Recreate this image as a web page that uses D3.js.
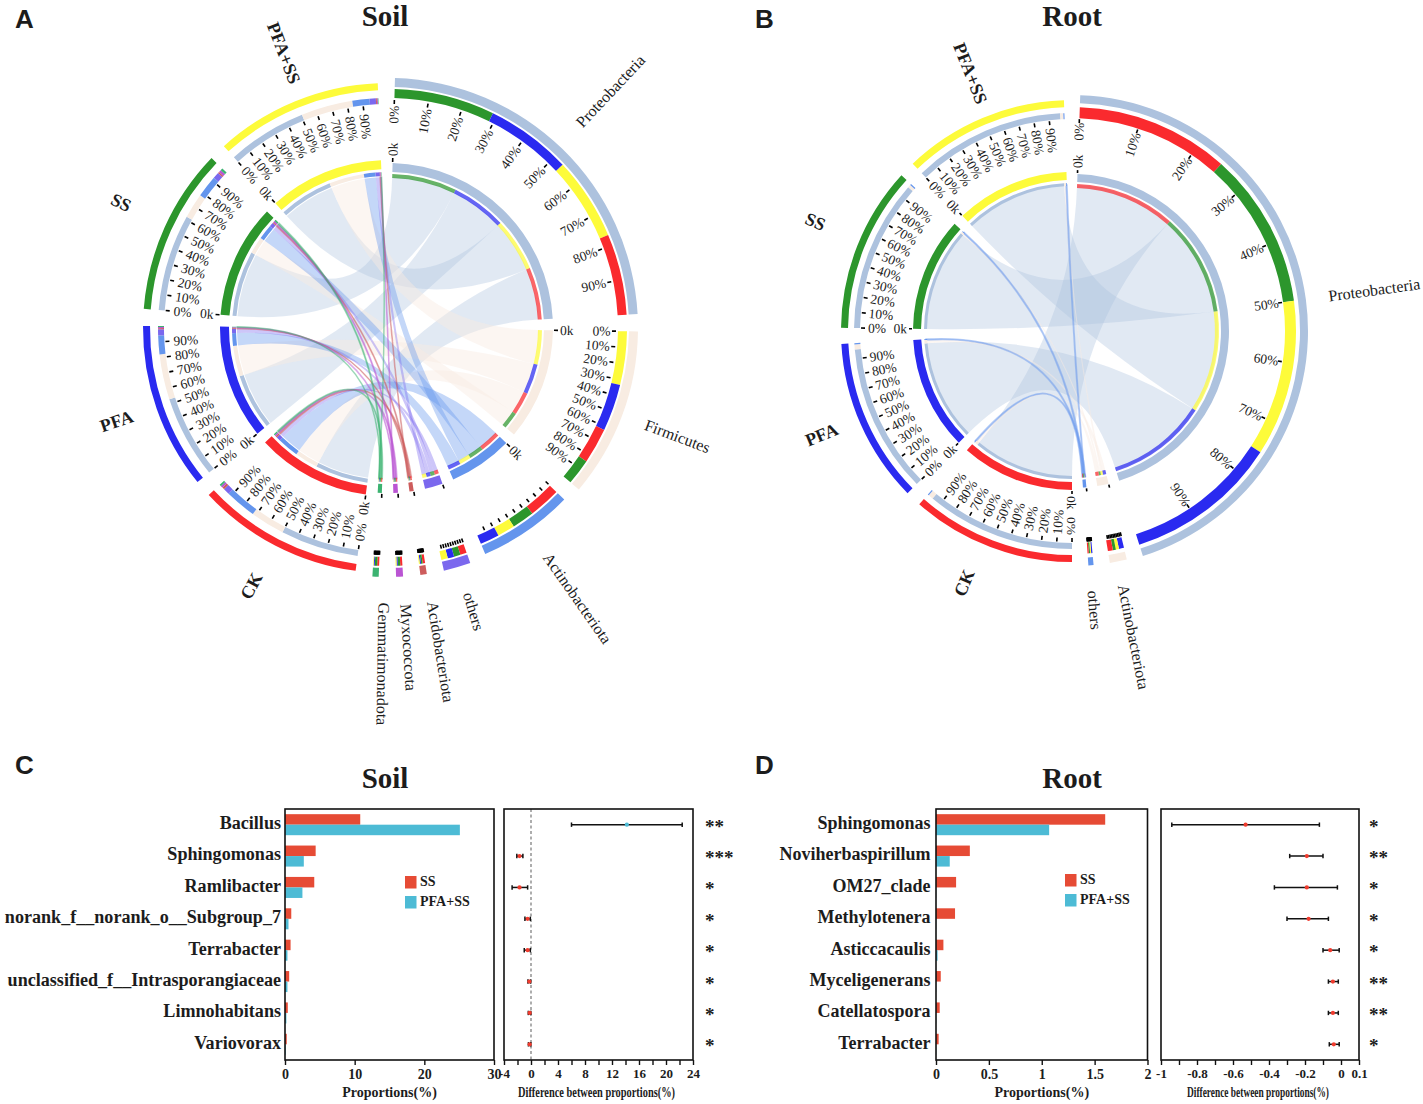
<!DOCTYPE html>
<html><head><meta charset="utf-8">
<script src="https://cdn.jsdelivr.net/npm/d3@7"></script>
<style>
html,body{margin:0;padding:0;background:#fff}
svg{display:block}
text{font-family:"Liberation Serif",serif;fill:#1c1c1c}
</style></head><body>
<svg id="c" width="1423" height="1104"></svg>
<script>
// ---------- DATA ----------
const sampleNames = ['CK','PFA','SS','PFA+SS'];
const sampleColors = ['#fa2a2e','#2a2af0','#2c962c','#fdfb3a'];

const soilPhyla = ['Proteobacteria','Firmicutes','Actinobacteriota','others','Acidobacteriota','Myxococcota','Gemmatimonadota'];
const soilPhylaColors = ['#adc2de','#f8ece2','#6495ed','#7b68ee','#cd5c5c','#ba55d3','#3cb371'];
// rows: samples, columns: phyla (relative abundance, %)
const soilCK  = [50,22,20,4,1.5,1.3,1.2];
const soilPFA = [53,29,12,4,.7,.7,.6];
const soilSS  = [62,16,14,4,1,1.5,1.5];
const soilPS  = [51,33,11,4,.6,.6,.4];
const soilLinkOrder = [[2,1,3,0],[3,1,0,2],[0,2,3,1],[0,2,1,3],[0,2,1,3],[0,2,1,3],[0,2,1,3]];

const rootPhyla = ['Proteobacteria','Actinobacteriota','others'];
const rootPhylaColors = ['#adc2de','#f8ece2','#6495ed'];
const rootCK  = [97.2,3.2,.8];
const rootPFA = [97.2,3.2,.8];
const rootSS  = [99,1.9,.8];
const rootPS  = [99,2,.7];
const rootLinkOrder = [[0,2,3,1],[1,3,2,0],[1,3,2,0]];

const soilGenera = ['Bacillus','Sphingomonas','Ramlibacter','norank_f__norank_o__Subgroup_7','Terrabacter','unclassified_f__Intrasporangiaceae','Limnohabitans','Variovorax'];
const soilSSvals = [10.8,4.4,4.2,.9,.8,.6,.4,.25];
const soilPSvals = [25.1,2.7,2.5,.5,.35,.35,.2,.1];
const soilDiff   = [14.2,-1.7,-1.7,-.5,-.5,-.25,-.2,-.2];
const soilLow    = [6,-2.1,-2.8,-.9,-1,-.45,-.4,-.38];
const soilHigh   = [22.4,-1.2,-.5,-.1,-.1,-.05,-.03,-.03];
const soilStars  = ['**','***','*','*','*','*','*','*'];

const rootGenera = ['Sphingomonas','Noviherbaspirillum','OM27_clade','Methylotenera','Asticcacaulis','Myceligenerans','Catellatospora','Terrabacter'];
const rootSSvals = [1.6,.32,.19,.18,.07,.045,.035,.025];
const rootPSvals = [1.07,.13,.002,.002,.015,.002,.002,.002];
const rootDiff   = [-.53,-.19,-.19,-.18,-.06,-.045,-.045,-.04];
const rootLow    = [-.94,-.285,-.37,-.3,-.1,-.07,-.07,-.065];
const rootHigh   = [-.12,-.1,-.02,-.07,-.01,-.015,-.015,-.01];
const rootStars  = ['*','**','*','*','*','**','**','*'];

const barColors = ['#e64b35','#4dbbd5'];

// ---------- LAYOUT ----------
const soilChord = {cx:388,cy:328,start:1.6,gap:4.0,chordR:151,thinStroke:1.3,
  s:{out:[238,245],ring:[224,230],tick:[219,223],label:215,thick:[159,168],thin:[152,156],zero:[169,173],zeroL:175},
  p:{out:[240,249],ring:[229,238],tick:[223,227],label:221.5,thick:[156,165],thin:[150,154],zero:[166,170],zeroL:172},
  phylaDr:[1,1,-3,0,0,0,0],
  phylaLabelR:[325,309,330,296,328,320,336], sampleLabelR:[292,287,295,294],
  phylaLabelShift:[-1,0,-.5,-.7,-1,-1,-2], sampleLabelShift:[.6,.3,1,1.5]};
const rootChord = {cx:1072,cy:331,start:2,gap:4.0,chordR:146,thinStroke:1.7,
  s:{out:[224,231],ring:[212,218],tick:[207,211],label:204,thick:[151,159],thin:[145,148],zero:[160,163],zeroL:165},
  p:{out:[228,236],ring:[213,224],tick:[208,212],label:208.5,thick:[149,157],thin:[143,147],zero:[158,161],zeroL:163},
  phylaDr:[0,-1,-1],
  phylaLabelR:[305,312,280], sampleLabelR:[274,271,279,277],
  phylaLabelShift:[0,0,0], sampleLabelShift:[2.5,1.4,1.5,1.3]};

const svg = d3.select('#c');
const rad = d => d*Math.PI/180;

function drawChord(phyla, phylaColors, rows, order, L){
  const g = svg.append('g').attr('transform',`translate(${L.cx},${L.cy})`);
  const phylaTotals = phyla.map((_,j)=>d3.sum(rows,r=>r[j]));
  const sampleTotals = rows.map(r=>d3.sum(r));
  const grand = d3.sum(phylaTotals)+d3.sum(sampleTotals);
  const nSec = phyla.length+rows.length;
  const ang = d3.scaleLinear().domain([0,grand]).range([0,360-L.gap*nSec]);
  let cursor = L.start, secs = [];
  phyla.forEach((n,j)=>{const w=ang(phylaTotals[j]);secs.push({kind:'p',i:j,name:n,a0:cursor,a1:cursor+w,total:phylaTotals[j]});cursor+=w+L.gap;});
  rows.forEach((r,i)=>{const w=ang(sampleTotals[i]);secs.push({kind:'s',i,name:sampleNames[i],a0:cursor,a1:cursor+w,total:sampleTotals[i]});cursor+=w+L.gap;});
  const pSec = secs.filter(s=>s.kind==='p'), sSec = secs.filter(s=>s.kind==='s');
  const arc = d3.arc();
  const ringArc = (r,a0,a1,dr=0)=>arc({innerRadius:r[0]+dr,outerRadius:r[1]+dr,startAngle:rad(a0),endAngle:rad(a1)});

  // link geometry: each sample's block stacked by phylum; each phylum's block stacked by sample
  const sPos = rows.map((r,i)=>{let c=sSec[i].a0;return r.map(v=>{const a=[c,c+ang(v)];c=a[1];return a;});});
  const links=[];
  phyla.forEach((_,j)=>{let c=pSec[j].a0;order[j].forEach(i=>{const w=ang(rows[i][j]);links.push({i,j,pa:[c,c+w],sa:sPos[i][j],v:rows[i][j]});c+=w;});});

  // ribbons
  const ribbon = d3.ribbon().radius(L.chordR);
  g.append('g').selectAll('path').data(links).join('path')
    .attr('d',d=>ribbon({source:{startAngle:rad(d.sa[0]),endAngle:rad(d.sa[1])},target:{startAngle:rad(d.pa[0]),endAngle:rad(d.pa[1])}}))
    .attr('fill',d=>phylaColors[d.j])
    .attr('stroke',d=>d.v<2.5&&phylaColors[d.j]!=='#f8ece2'?phylaColors[d.j]:'none')
    .attr('stroke-width',L.thinStroke)
    .attr('fill-opacity',d=>d.j===0?0.36:(phylaColors[d.j]==='#f8ece2'?0.45:(d.v<2.5?0.5:0.38)))
    .attr('stroke-opacity',.45);

  // rings split by link
  links.forEach(l=>{
    const dr=L.phylaDr[l.j];
    g.append('path').attr('d',ringArc(L.p.ring,l.pa[0],l.pa[1],dr)).attr('fill',sampleColors[l.i]);
    g.append('path').attr('d',ringArc(L.p.thin,l.pa[0],l.pa[1])).attr('fill',sampleColors[l.i]).attr('opacity',.72);
    g.append('path').attr('d',ringArc(L.s.ring,l.sa[0],l.sa[1])).attr('fill',phylaColors[l.j]);
    g.append('path').attr('d',ringArc(L.s.thin,l.sa[0],l.sa[1])).attr('fill',phylaColors[l.j]);
  });
  pSec.forEach((s,j)=>{
    g.append('path').attr('d',ringArc(L.p.out,s.a0,s.a1,L.phylaDr[j])).attr('fill',phylaColors[j]);
    g.append('path').attr('d',ringArc(L.p.thick,s.a0,s.a1)).attr('fill',phylaColors[j]);
  });
  sSec.forEach((s,i)=>{
    g.append('path').attr('d',ringArc(L.s.out,s.a0,s.a1)).attr('fill',sampleColors[i]);
    g.append('path').attr('d',ringArc(L.s.thick,s.a0,s.a1)).attr('fill',sampleColors[i]);
  });

  // ticks + labels
  const pol=(a,r)=>[r*Math.sin(rad(a)),-r*Math.cos(rad(a))];
  const tickLine=(a,r0,r1,w=1.6)=>{const p=pol(a,r0),q=pol(a,r1);g.append('line').attr('x1',p[0]).attr('y1',p[1]).attr('x2',q[0]).attr('y2',q[1]).attr('stroke','#000').attr('stroke-width',w);};
  const radial=(a,r,txt,size,outward)=>{
    const p=pol(a,r), right=a<180, startSide=outward?right:!right;
    g.append('text').attr('transform',`translate(${p[0]},${p[1]}) rotate(${right?a-90:a+90})`)
      .attr('text-anchor',startSide?'start':'end').attr('dy','.34em').attr('font-size',size).attr('fill','#222').text(txt);
  };
  secs.forEach(s=>{
    const R=s.kind==='p'?L.p:L.s, dr=s.kind==='p'?L.phylaDr[s.i]:0;
    const pct=d3.scaleLinear().domain([0,100]).range([s.a0,s.a1]);
    const big=s.a1-s.a0>30;
    d3.range(0,100,10).forEach(v=>{
      const a=pct(v);
      tickLine(a,R.tick[0]+dr,R.tick[1]+dr);
      if(big) radial(a,R.label+dr,v+'%',13.5,false);
    });
    tickLine(s.a0,R.zero[0],R.zero[1]);
    if(s.a1-s.a0>10) radial(s.a0,R.zeroL,'0k',13.5,true);
  });

  // sector names, written along the radius
  const centred=(a,r,txt,attrs)=>{
    const p=pol(a,r), rot=a<186?a-90:a+90;
    const t=g.append('text').attr('transform',`translate(${p[0]},${p[1]}) rotate(${rot})`)
      .attr('text-anchor','middle').attr('dy','.34em').text(txt);
    Object.entries(attrs).forEach(([k,v])=>t.attr(k,v));
  };
  pSec.forEach((s,j)=>centred((s.a0+s.a1)/2+L.phylaLabelShift[j],L.phylaLabelR[j],s.name,{'font-size':16}));
  sSec.forEach((s,i)=>centred((s.a0+s.a1)/2+L.sampleLabelShift[i],L.sampleLabelR[i],s.name,{'font-size':18,'font-weight':'bold'}));
}
drawChord(soilPhyla,soilPhylaColors,[soilCK,soilPFA,soilSS,soilPS],soilLinkOrder,soilChord);
drawChord(rootPhyla,rootPhylaColors,[rootCK,rootPFA,rootSS,rootPS],rootLinkOrder,rootChord);

// ---------- BAR + DIFFERENCE PANELS ----------
function frame(g,x0,x1,y0,y1){
  g.append('rect').attr('x',x0).attr('y',y0).attr('width',x1-x0).attr('height',y1-y0)
   .attr('fill','none').attr('stroke','#111').attr('stroke-width',1.6);
}
function styleAxis(a){
  a.select('.domain').remove();
  a.selectAll('line').attr('stroke','#111').attr('stroke-width',1.4);
}
function drawPanel(o){
  const g=svg.append('g');
  const y0=809,y1=1060;
  const y=d3.scaleBand().domain(o.names).range([y0,y1]).paddingInner(.33).paddingOuter(.165);
  const x=d3.scaleLinear().domain(o.barDomain).range(o.barRange);
  const series=[o.ss,o.ps];
  series.forEach((vals,k)=>{
    g.append('g').selectAll('rect').data(vals).join('rect')
     .attr('x',x(0)).attr('y',(d,i)=>y(o.names[i])+k*y.bandwidth()/2)
     .attr('width',d=>x(d)-x(0)).attr('height',y.bandwidth()/2).attr('fill',barColors[k]);
  });
  frame(g,o.barRange[0],o.barRange[1],y0,y1);
  const ax=g.append('g').attr('transform',`translate(0,${y1})`).call(d3.axisBottom(x).tickValues(o.barTicks).tickFormat(d=>d).tickSize(5).tickPadding(4));
  styleAxis(ax);
  ax.selectAll('text').attr('font-size',14).attr('font-weight','bold').attr('font-family','"Liberation Serif"');
  const ay=g.append('g').attr('transform',`translate(${o.barRange[0]},0)`).call(d3.axisLeft(y).tickSize(0).tickPadding(o.labelPad));
  ay.select('.domain').remove();
  ay.selectAll('text').attr('font-size',o.labelSize).attr('font-weight','bold').attr('font-family','"Liberation Serif"').attr('dy','.24em');
  g.append('text').attr('x',(o.barRange[0]+o.barRange[1])/2).attr('y',1097).attr('text-anchor','middle')
    .attr('font-size',14).attr('font-weight','bold').text('Proportions(%)');

  // legend
  ['SS','PFA+SS'].forEach((n,k)=>{
    g.append('rect').attr('x',o.legendX).attr('y',o.legendY+k*20).attr('width',11.5).attr('height',12.5).attr('fill',barColors[k]);
    g.append('text').attr('x',o.legendX+15).attr('y',o.legendY+k*20+10).attr('font-size',14).attr('font-weight','bold').text(n);
  });

  // difference panel
  const d=d3.scaleLinear().domain(o.diffDomain).range(o.diffRange);
  if(o.dashed) g.append('line').attr('x1',d(0)).attr('x2',d(0)).attr('y1',y0).attr('y2',y1).attr('stroke','#777').attr('stroke-width',1.2).attr('stroke-dasharray','3,2.5');
  frame(g,o.diffRange[0],o.diffRange[1],y0,y1);
  const dx=g.append('g').attr('transform',`translate(0,${y1})`).call(d3.axisBottom(d).tickValues(o.diffTicks).tickFormat(o.diffFormat).tickSize(5).tickPadding(4));
  styleAxis(dx);
  dx.selectAll('text').attr('font-size',13).attr('font-weight','bold').attr('font-family','"Liberation Serif"');
  g.append('text').attr('x',(o.diffRange[0]+o.diffRange[1])/2+o.diffShift).attr('y',1097).attr('text-anchor','middle')
    .attr('font-size',14).attr('font-weight','bold').attr('textLength',o.diffLen).attr('lengthAdjust','spacingAndGlyphs').text('Difference between proportions(%)');
  o.names.forEach((n,i)=>{
    const cy=y(n)+y.bandwidth()/2;
    g.append('line').attr('x1',d(o.low[i])).attr('x2',d(o.high[i])).attr('y1',cy).attr('y2',cy).attr('stroke','#111').attr('stroke-width',1.5);
    [o.low[i],o.high[i]].forEach(v=>g.append('line').attr('x1',d(v)).attr('x2',d(v)).attr('y1',cy-2.2).attr('y2',cy+2.2).attr('stroke','#111').attr('stroke-width',1.5));
    g.append('circle').attr('cx',d(o.diff[i])).attr('cy',cy).attr('r',2.1).attr('fill',o.diff[i]>0?barColors[1]:'#f03b2e');
    g.append('text').attr('x',o.starX).attr('y',cy+8).attr('font-size',19).attr('font-weight','bold').attr('fill','#333').text(o.stars[i]);
  });
}
drawPanel({names:soilGenera,ss:soilSSvals,ps:soilPSvals,barDomain:[0,30],barRange:[285,494],barTicks:[0,10,20,30],
  labelSize:18.1,labelPad:4,legendX:405,legendY:876,
  diff:soilDiff,low:soilLow,high:soilHigh,stars:soilStars,diffDomain:[-4,24],diffRange:[504,693],
  diffTicks:d3.range(-4,25,2),diffFormat:v=>v%4===0?v:'',dashed:true,diffShift:-2,diffLen:157,starX:705});
drawPanel({names:rootGenera,ss:rootSSvals,ps:rootPSvals,barDomain:[0,2],barRange:[936,1147.5],barTicks:[0,.5,1,1.5,2],
  labelSize:18,labelPad:5.5,legendX:1065,legendY:874,
  diff:rootDiff,low:rootLow,high:rootHigh,stars:rootStars,diffDomain:[-1,.1],diffRange:[1161,1359],
  diffTicks:[-1,-.9,-.8,-.7,-.6,-.5,-.4,-.3,-.2,-.1,0,.1],diffFormat:v=>[-1,-.8,-.6,-.4,-.2,0,.1].includes(v)?v:'',dashed:false,diffShift:-2,diffLen:142,starX:1369});

// ---------- TITLES ----------
const titleData=[['Soil',385,26],['Root',1072,26],['Soil',385,788],['Root',1072,788]];
svg.append('g').selectAll('text').data(titleData).join('text')
  .attr('x',d=>d[1]).attr('y',d=>d[2]).attr('text-anchor','middle')
  .attr('font-size',29).attr('font-weight','bold').text(d=>d[0]);
const panelLetters=[['A',15,28],['B',755,28],['C',15,774],['D',755,774]];
svg.append('g').selectAll('text').data(panelLetters).join('text')
  .attr('x',d=>d[1]).attr('y',d=>d[2]).attr('font-size',26).attr('font-weight','bold')
  .style('font-family','"Liberation Sans",Arial,sans-serif').attr('fill','#000').text(d=>d[0]);
</script>
</body></html>
